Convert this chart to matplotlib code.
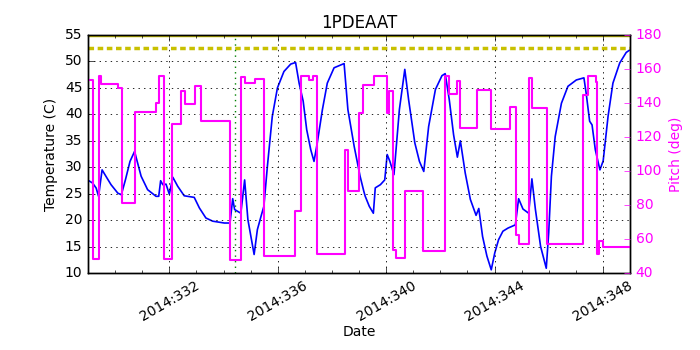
import matplotlib
matplotlib.use("Agg")
import matplotlib.pyplot as plt
from matplotlib.ticker import MultipleLocator, FuncFormatter

plt.style.use("classic")
plt.rcParams.update({
    "figure.facecolor": "white",
    "savefig.facecolor": "white",
    "font.family": ["DejaVu Sans"],
    "font.size": 10,
})

title = "1PDEAAT"
year = 2014

# Temperature (day of year, degC)
temp_day = [329.00, 329.03, 329.17, 329.30, 329.39, 329.52, 329.66, 329.85, 330.10, 330.23,
            330.38, 330.55, 330.72, 330.80, 330.96, 331.20, 331.51, 331.61, 331.68, 331.76,
            331.88, 332.00, 332.13, 332.31, 332.55, 332.92, 333.11, 333.35, 333.60, 334.03,
            334.24, 334.34, 334.41, 334.64, 334.78, 334.90, 335.13, 335.25, 335.40, 335.49,
            335.62, 335.80, 335.99, 336.23, 336.48, 336.66, 336.79, 336.94, 337.07, 337.22,
            337.34, 337.46, 337.65, 337.83, 338.08, 338.45, 338.59, 338.82, 339.04, 339.18,
            339.23, 339.38, 339.53, 339.60, 339.79, 339.95, 340.04, 340.14, 340.29, 340.49,
            340.69, 340.83, 341.06, 341.23, 341.39, 341.57, 341.82, 342.06, 342.18, 342.33,
            342.49, 342.63, 342.74, 342.92, 343.11, 343.32, 343.42, 343.56, 343.72, 343.88,
            344.01, 344.15, 344.31, 344.50, 344.77, 344.89, 345.05, 345.26, 345.38, 345.51,
            345.70, 345.91, 346.00, 346.10, 346.24, 346.47, 346.71, 347.02, 347.30, 347.39,
            347.51, 347.60, 347.72, 347.89, 348.01, 348.19, 348.37, 348.62, 348.86, 349.00]
temp_val = [27.4, 27.45, 27.0, 26.07, 24.5, 29.5, 28.3, 26.7, 25.1, 24.8,
            27.6, 31.1, 33.0, 31.4, 28.3, 25.75, 24.5, 24.5, 27.45, 26.7,
            26.8, 24.9, 28.1, 26.4, 24.6, 24.3, 22.3, 20.4, 19.8, 19.45,
            19.45, 24.05, 22.0, 21.3, 27.6, 20.1, 13.5, 18.2, 21.0, 22.6,
            30.2, 39.6, 45.0, 48.1, 49.5, 49.8, 45.9, 42.5, 37.1, 33.3,
            31.1, 34.6, 40.9, 45.9, 48.8, 49.6, 40.9, 34.0, 28.3, 25.4,
            24.5, 22.6, 21.3, 26.1, 26.7, 27.6, 32.4, 31.1, 28.6, 40.9,
            48.5, 42.8, 34.6, 31.1, 29.2, 37.7, 44.7, 47.3, 47.7, 42.8,
            36.15, 31.9, 35.0, 28.9, 23.9, 20.9, 22.2, 16.9, 13.2, 10.6,
            13.8, 16.3, 17.9, 18.5, 19.1, 24.05, 22.1, 21.3, 27.8, 22.0,
            15.05, 10.9, 17.6, 28.3, 35.8, 42.1, 45.3, 46.5, 46.9, 43.7,
            38.7, 38.0, 33.3, 29.5, 31.2, 39.6, 45.9, 49.7, 51.7, 52.2]

# Pitch (day of year, deg), step changes
pitch_day = [329.00, 329.20, 329.39, 329.49, 330.11, 330.25, 330.75, 331.51, 331.61, 331.80,
             332.10, 332.42, 332.57, 332.96, 333.16, 334.24, 334.66, 334.78, 335.15, 335.49,
             336.65, 336.87, 337.14, 337.29, 337.44, 338.47, 338.59, 338.99, 339.14, 339.55,
             340.04, 340.12, 340.27, 340.37, 340.69, 341.35, 342.18, 342.33, 342.63, 342.73,
             343.34, 343.88, 344.57, 344.79, 344.89, 345.26, 345.38, 345.93, 347.25, 347.45,
             347.75, 347.79, 347.87, 348.01, 349.00]
pitch_val = [153.7, 48.4, 155.7, 151.2, 148.8, 81.4, 134.9, 140.0, 155.7, 48.4,
             127.8, 147.2, 139.2, 150.2, 129.6, 47.8, 155.1, 151.8, 154.1, 50.2,
             76.3, 155.7, 153.3, 155.7, 51.0, 112.2, 88.4, 134.1, 150.8, 155.7,
             134.1, 147.2, 53.7, 48.8, 88.0, 52.8, 155.7, 145.3, 153.1, 125.1,
             147.8, 124.7, 137.6, 62.2, 57.2, 154.9, 136.9, 57.2, 144.7, 155.7,
             152.5, 51.4, 58.8, 55.3, 55.3]

planning_limit = 52.5
yellow_limit = 55.0
now_day = 334.44

MAGENTA = "#ff00ff"
YELLOW = "#c8c000"

fig = plt.figure(figsize=(7, 3.5), dpi=100)
ax1 = fig.add_axes([88/700, 1-273/350, (630-88)/700, (273-35)/350])
ax1.plot(temp_day, temp_val, color="#0000ff", lw=1.2)
ax1.axhline(yellow_limit, color=YELLOW, lw=2.5, ls="-")
ax1.axhline(planning_limit, color=YELLOW, lw=2.5, ls="--", dashes=(4, 2.6))
ax1.axvline(now_day, color="g", lw=1.0, ls=":")
ax1.set_xlim(329, 349)
ax1.set_ylim(10, 55)
ax1.set_yticks(range(10, 56, 5))
ax1.xaxis.set_major_locator(MultipleLocator(4))
ax1.xaxis.set_minor_locator(MultipleLocator(1))
ax1.xaxis.set_major_formatter(FuncFormatter(lambda v, p: f"{year}:{int(round(v)):03d}"))
ax1.grid(True, color="k", ls=":", lw=0.6)
ax1.set_ylabel("Temperature (C)", fontsize=10)
ax1.set_xlabel("Date", fontsize=10, labelpad=1)
ax1.set_title(title, fontsize=12)
for lab in ax1.get_xticklabels():
    lab.set_rotation(30)
    lab.set_ha("center")
ax1.tick_params(labelsize=10)

ax2 = ax1.twinx()
ax2.step(pitch_day, pitch_val, where="post", color=MAGENTA, lw=1.5)
ax2.set_ylim(40, 180)
ax2.set_yticks(range(40, 181, 20))
ax2.set_ylabel("Pitch (deg)", color=MAGENTA, fontsize=10)
ax2.tick_params(axis="y", colors=MAGENTA, labelsize=10)
ax2.set_xlim(329, 349)

fig.savefig("out.png", dpi=100)
